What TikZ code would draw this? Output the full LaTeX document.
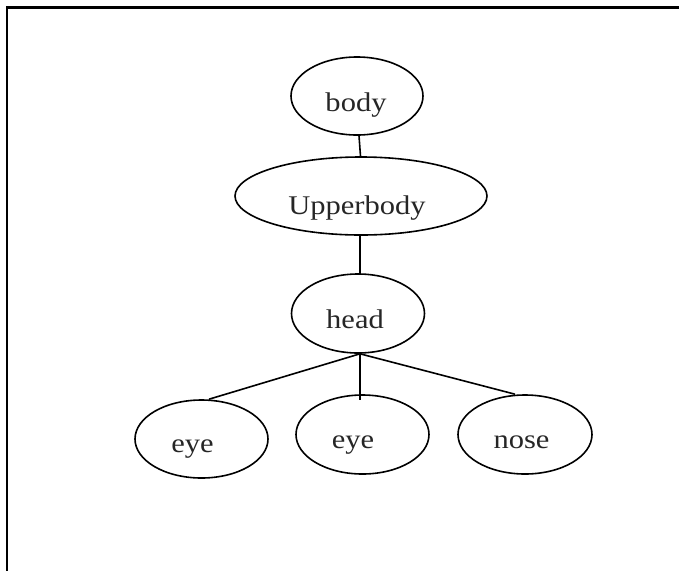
\documentclass[tikz,border=0pt]{standalone}
\usepackage{fontspec}
\setmainfont{Liberation Serif}[FakeStretch=1.13]
\usetikzlibrary{shapes.geometric}
\begin{document}
\begin{tikzpicture}[x=1pt,y=-1pt,
  ell/.style={draw,ellipse,line width=1.6pt,inner sep=0pt},
  lbl/.style={anchor=base,inner sep=0pt,font=\fontsize{27}{30}\selectfont,text=black!85},
  edge/.style={line width=1.6pt}]
\useasboundingbox (0,0) rectangle (679,571);
% open frame: top and left sides only
\draw[line width=2.2pt] (679,7.5) -- (7,7.5) -- (7,571);
% tree nodes
\node[ell,minimum width=132pt,minimum height=78pt] (body) at (357,96) {};
\node[ell,minimum width=252pt,minimum height=78pt] (upper) at (361,196) {};
\node[ell,minimum width=133pt,minimum height=79pt] (head) at (358,313.5) {};
\node[ell,minimum width=133pt,minimum height=78pt] (eyeA) at (201.5,439) {};
\node[ell,minimum width=133pt,minimum height=79pt] (eyeB) at (362.5,434.5) {};
\node[ell,minimum width=134pt,minimum height=79pt] (nose) at (525,434.5) {};
% labels
\node[lbl] (bodyT) at (356,111) {body};
\node[lbl] (upperT) at (357,214) {Upperbody};
\node[lbl] (headT) at (355,328) {head};
\node[lbl] (eyeAT) at (192.5,452) {eye};
\node[lbl] (eyeBT) at (353,448) {eye};
\node[lbl] (noseT) at (521.5,448) {nose};
% connectors
\coordinate (hub) at ([xshift=2pt]head.south);
\coordinate (eyeAend) at ([xshift=7.5pt]eyeA.north);
\coordinate (eyeBend) at ([xshift=-2.5pt,yshift=-6pt]eyeB.north);
\coordinate (noseEnd) at ([xshift=-10pt]nose.north);
\draw[edge] ([xshift=2pt]body.south) -- ([xshift=-0.5pt]upper.north);
\draw[edge] ([xshift=-1pt]upper.south) -- ([xshift=2pt]head.north);
\draw[edge] (hub) -- (eyeAend);
\draw[edge] (hub) -- (eyeBend);
\draw[edge] (hub) -- (noseEnd);
\end{tikzpicture}
\end{document}
